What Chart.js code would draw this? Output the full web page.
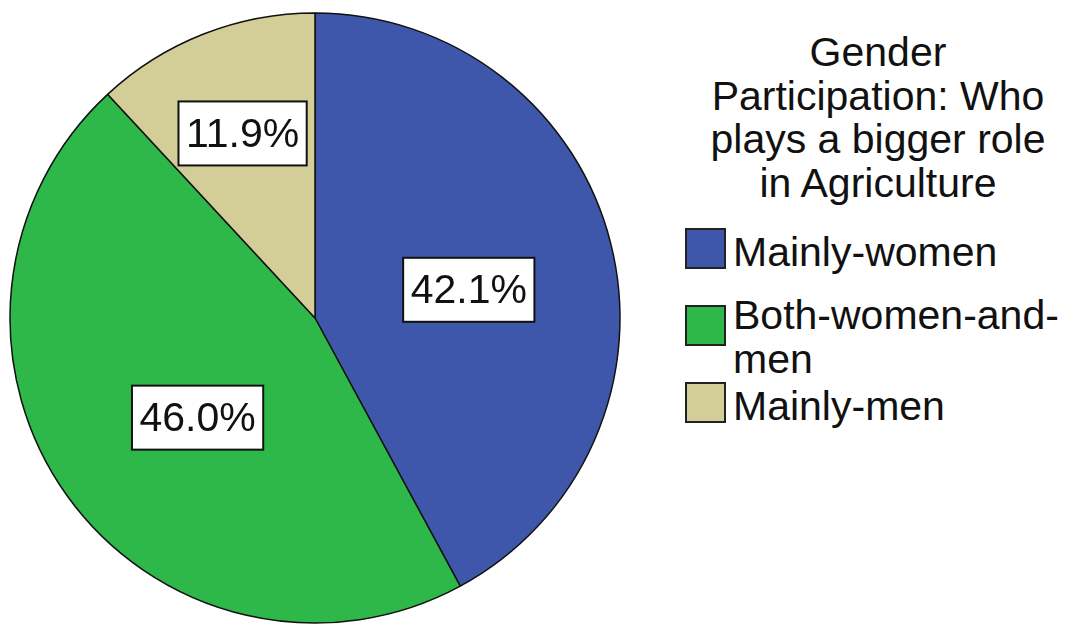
<!DOCTYPE html>
<html>
<head>
<meta charset="utf-8">
<script src="https://cdn.jsdelivr.net/npm/chart.js@4/dist/chart.umd.min.js"></script>
<style>
  html, body { margin: 0; padding: 0; background: #fff; }
  body { width: 1068px; height: 628px; position: relative; overflow: hidden;
         font-family: "Liberation Sans", Arial, sans-serif; color: #111; }
  #pieWrap { position: absolute; left: 0; top: 0; width: 630px; height: 628px; }
  #legendTitle { position: absolute; left: 700px; top: 31px; width: 356px;
                 text-align: center; font-size: 41px; line-height: 43.5px; }
  .item { position: absolute; left: 685px; font-size: 41px; line-height: 44px; }
  .swatch { position: absolute; left: 0; width: 37px; height: 37px;
            border: 2px solid #222; }
  .txt { position: absolute; left: 48px; width: 340px; }
</style>
</head>
<body>
<div id="pieWrap"><canvas id="pieChart"></canvas></div>
<div id="legendTitle"></div>
<div id="legend"></div>

<script>
// survey answers and their shares (%)
const categories = ['Mainly-women', 'Both-women-and-men', 'Mainly-men'];
const shares = [42.1, 46.0, 11.9];
const sliceColors = ['#3E57AA', '#2EB84A', '#D3CE97'];
const legendTitle = ['Gender', 'Participation: Who', 'plays a bigger role', 'in Agriculture'];

// how far out (fraction of radius) each percentage label sits, plus a small nudge
const labelRadius = [0.51, 0.51, 0.65];
const labelNudge = [[3, 10], [9, 9], [0, 0]];
// legend row layout
const legendRowTop = [228, 295, 382];
const swatchOffset = [0, 10, 0];
const textOffset = [2, -2, 2];

// boxed percentage labels inside the slices
const boxLabels = {
    id: 'boxLabels',
    afterDatasetsDraw(chart) {
        const ctx = chart.ctx;
        const meta = chart.getDatasetMeta(0);
        ctx.save();
        ctx.font = '41px "Liberation Sans", Arial, sans-serif';
        ctx.textAlign = 'center';
        ctx.textBaseline = 'middle';
        meta.data.forEach((arc, i) => {
            const p = arc.getProps(['x', 'y', 'startAngle', 'endAngle', 'outerRadius']);
            const mid = (p.startAngle + p.endAngle) / 2;
            const r = p.outerRadius * labelRadius[i];
            const x = p.x + Math.cos(mid) * r + labelNudge[i][0];
            const y = p.y + Math.sin(mid) * r + labelNudge[i][1];
            const text = shares[i].toFixed(1) + '%';
            const w = ctx.measureText(text).width + 15;
            const h = 64;
            ctx.fillStyle = '#fff';
            ctx.fillRect(x - w / 2, y - h / 2, w, h);
            ctx.lineWidth = 2;
            ctx.strokeStyle = '#111';
            ctx.strokeRect(x - w / 2, y - h / 2, w, h);
            ctx.fillStyle = '#111';
            ctx.fillText(text, x, y + 2);
        });
        ctx.restore();
    }
};

const ctx = document.getElementById('pieChart').getContext('2d');
new Chart(ctx, {
    type: 'pie',
    data: {
        labels: categories,
        datasets: [{
            data: shares,
            backgroundColor: sliceColors,
            borderColor: '#111',
            borderWidth: 1.5
        }]
    },
    options: {
        responsive: true,
        maintainAspectRatio: false,
        animation: false,
        radius: 305,
        layout: { padding: { top: 8 } },
        plugins: { legend: { display: false }, tooltip: { enabled: false } }
    },
    plugins: [boxLabels]
});

// legend on the right
document.getElementById('legendTitle').innerHTML = legendTitle.join('<br>');
const legend = document.getElementById('legend');
categories.forEach((name, i) => {
    const item = document.createElement('div');
    item.className = 'item';
    item.style.top = legendRowTop[i] + 'px';
    item.innerHTML = '<div class="swatch" style="top:' + swatchOffset[i] + 'px;background:' +
        sliceColors[i] + '"></div><div class="txt" style="top:' + textOffset[i] + 'px">' + name + '</div>';
    legend.appendChild(item);
});
</script>
</body>
</html>
